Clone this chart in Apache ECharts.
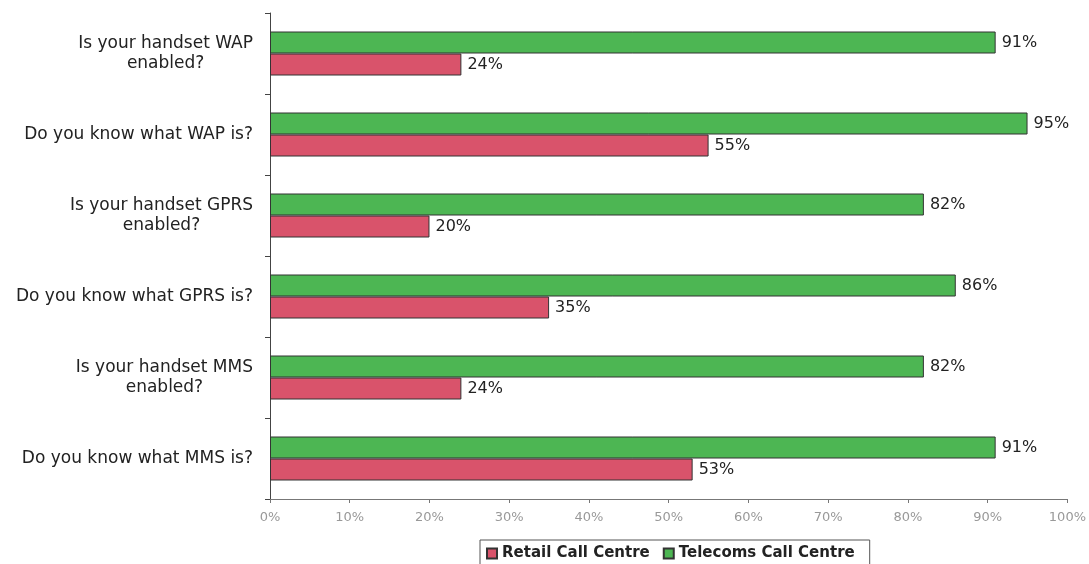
<!DOCTYPE html>
<html>
<head>
<meta charset="utf-8">
<script src="https://cdn.jsdelivr.net/npm/echarts@6/dist/echarts.min.js"></script>
<style>
  html, body { margin: 0; padding: 0; background: #ffffff; }
  #chart { width: 1089px; height: 564px; }
</style>
</head>
<body>
<div id="chart"></div>
<script>
// Survey questions, listed top to bottom
const questions = [
  'Is your handset WAP\nenabled?',
  'Do you know what WAP is?',
  'Is your handset GPRS\nenabled?',
  'Do you know what GPRS is?',
  'Is your handset MMS\nenabled?',
  'Do you know what MMS is?'
];
// Share of "yes" answers, in percent
const retailValues = [24, 55, 20, 35, 24, 53];
const telecomsValues = [91, 95, 82, 86, 82, 91];
const seriesNames = ['Retail Call Centre', 'Telecoms Call Centre'];

const chart = echarts.init(document.getElementById('chart'), null, { renderer: 'canvas' });

const labelStyle = {
  show: true,
  position: 'right',
  distance: 6,
  formatter: '{c}%',
  color: '#222',
  fontFamily: 'DejaVu Sans',
  fontSize: 16
};

chart.setOption({
  backgroundColor: '#ffffff',
  animation: false,
  grid: { left: 270, right: 21, top: 13, bottom: 65, containLabel: false },
  legend: {
    data: seriesNames,
    left: 480,
    top: 540,
    padding: [6, 15, 6, 6],
    itemGap: 13,
    itemWidth: 10,
    itemHeight: 10,
    icon: 'rect',
    borderColor: '#555',
    borderWidth: 1,
    textStyle: { color: '#222', fontFamily: 'DejaVu Sans', fontWeight: 'bold', fontSize: 15 }
  },
  xAxis: {
    type: 'value',
    min: 0,
    max: 100,
    interval: 10,
    axisLine: { show: true, lineStyle: { color: '#777', width: 1 } },
    axisTick: { show: true, length: 4, lineStyle: { color: '#777' } },
    splitLine: { show: false },
    axisLabel: {
      formatter: '{value}%',
      color: '#999',
      fontFamily: 'DejaVu Sans',
      fontSize: 13,
      margin: 12
    }
  },
  yAxis: {
    type: 'category',
    inverse: true,
    data: questions,
    axisLine: { show: true, lineStyle: { color: '#444', width: 1 } },
    axisTick: { show: true, length: 5, lineStyle: { color: '#444' } },
    axisLabel: {
      margin: 17,
      formatter: function (v) {
        return v.split('\n').map(function (line) { return '{c|' + line + '}'; }).join('\n');
      },
      rich: {
        c: { align: 'center', color: '#222', fontFamily: 'DejaVu Sans', fontSize: 17, lineHeight: 20 }
      }
    }
  },
  // Telecoms listed first so its bar sits above the retail bar in each row
  series: [
    {
      name: seriesNames[1],
      type: 'bar',
      data: telecomsValues,
      barWidth: 22,
      barGap: '0%',
      itemStyle: { color: '#4db653', borderColor: '#333', borderWidth: 1 },
      label: labelStyle
    },
    {
      name: seriesNames[0],
      type: 'bar',
      data: retailValues,
      barWidth: 22,
      barGap: '0%',
      itemStyle: { color: '#d9536b', borderColor: '#333', borderWidth: 1 },
      label: labelStyle
    }
  ]
});
</script>
</body>
</html>
